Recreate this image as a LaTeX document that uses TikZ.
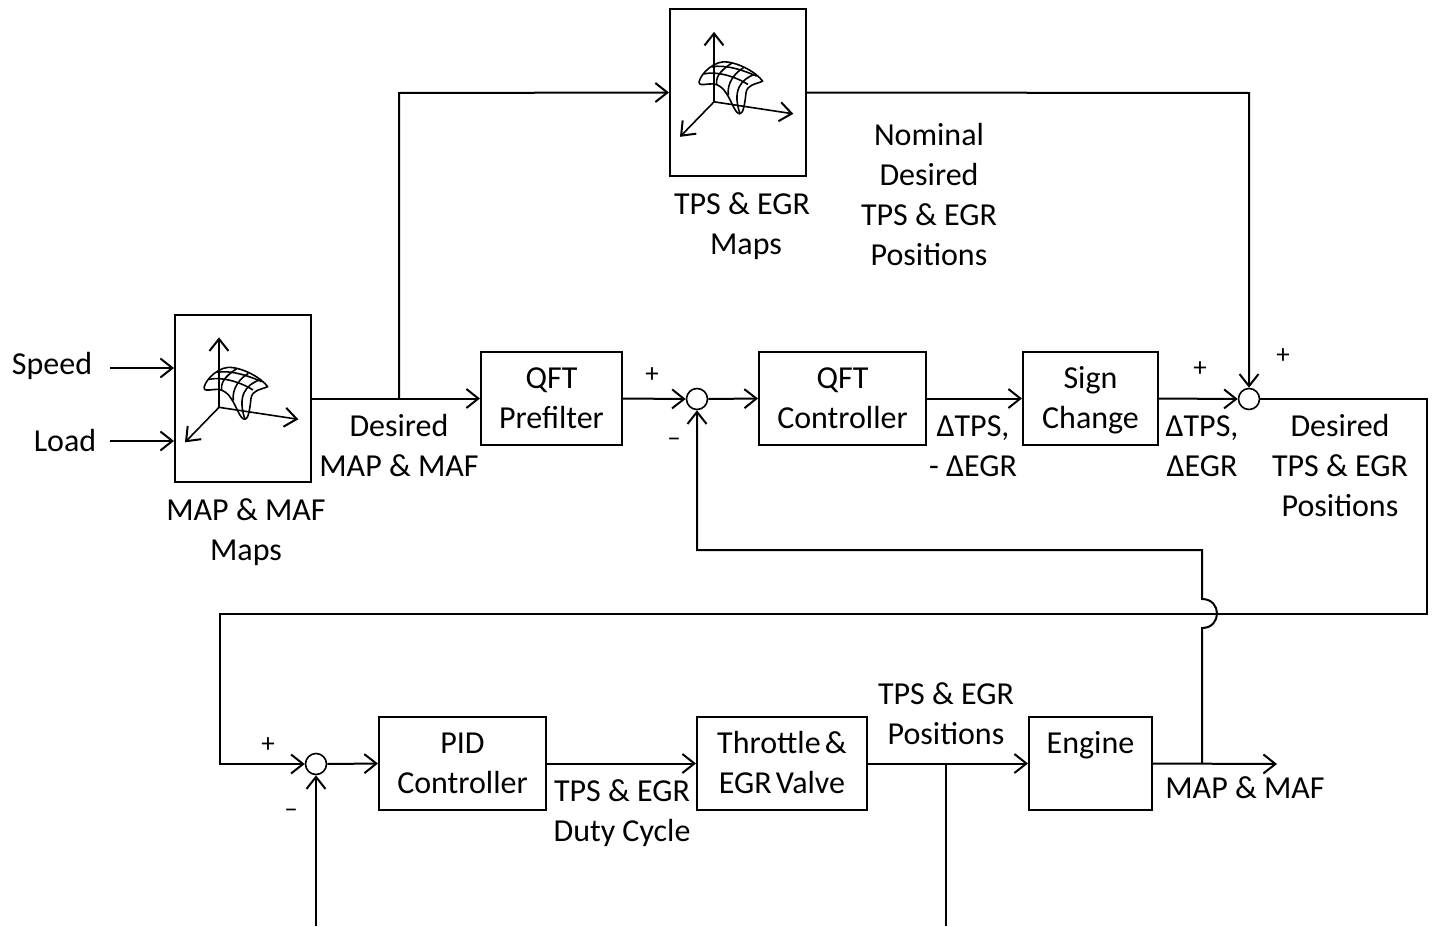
\documentclass[tikz,border=0pt]{standalone}
\usepackage{fontspec}
\setmainfont{Carlito}
\usetikzlibrary{arrows.meta}
\newcommand{\boxtext}[2]{\rule{0pt}{30pt}#1\\#2\rule[-10pt]{0pt}{10pt}}
\newcommand{\mapicon}[2]{%
\begin{scope}[shift={(#1,#2)},x=.3333pt,y=-.3333pt,line width=1.6pt,line join=round]
\draw[arr] (162,292) -- (162,82);
\draw[arr] (162,292) -- (400,328);
\draw[arr] (162,292) -- (60,397);
\draw (118,238) .. controls (112,222) and (150,175) .. (190,172)
 .. controls (235,172) and (290,205) .. (308,230)
 .. controls (285,240) and (262,240) .. (258,265)
 .. controls (255,295) and (250,328) .. (240,328)
 .. controls (225,328) and (215,290) .. (200,268)
 .. controls (190,250) and (175,240) .. (160,238)
 .. controls (140,238) and (125,243) .. (118,238);
\draw (215,176) .. controls (195,190) and (165,210) .. (170,240);
\draw (250,190) .. controls (225,205) and (200,235) .. (205,272);
\draw (282,210) .. controls (245,225) and (215,255) .. (240,328);
\draw (132,208) .. controls (170,200) and (225,215) .. (264,240);
\draw (155,187) .. controls (195,180) and (245,195) .. (290,215);
\end{scope}}
\tikzset{
 line/.style={line width=2pt},
 arr/.style={-{Straight Barb[length=12pt,width=19pt,line width=2pt]}},
 flow/.style={line,arr},
 box/.style={draw,line width=2pt,inner sep=0pt,align=center},
 sumnode/.style={draw,circle,line width=1.6pt,minimum size=21pt,inner sep=0pt},
 lab/.style={inner sep=0pt,align=center},
 sign/.style={inner sep=0pt,font=\fontsize{27}{27}\selectfont},
}
\begin{document}
\begin{tikzpicture}[x=1pt,y=-1pt,font=\fontsize{32}{40}\selectfont]
\useasboundingbox (0,0) rectangle (1434,926);
% boxes
\node[box,minimum width=136pt,minimum height=167pt] (mapmaf) at (243,398.5) {};
\node[box,minimum width=136pt,minimum height=167pt] (tpsmap) at (738,92.5) {};
\node[box,minimum width=141pt,minimum height=93pt] (prefilter) at (551.5,398.5) {\boxtext{QFT}{Prefilter}};
\node[box,minimum width=167pt,minimum height=93pt] (qft) at (842.5,398.5) {\boxtext{QFT}{Controller}};
\node[box,minimum width=135pt,minimum height=93pt] (signch) at (1090.5,398.5) {\boxtext{Sign}{Change}};
\node[box,minimum width=167pt,minimum height=93pt] (pid) at (462.5,763.5) {\boxtext{PID}{Controller}};
\node[box,minimum width=170pt,minimum height=93pt] (throttle) at (782,763.5) {\boxtext{Throttle\hspace{-3pt} \&}{EGR\hspace{-3pt} Valve}};
\node[box,minimum width=123pt,minimum height=93pt] (engine) at (1090.5,763.5) {\boxtext{Engine}{~}};
\node[sumnode] (s1) at (697,399) {};
\node[sumnode] (s2) at (1249,399) {};
\node[sumnode] (s3) at (316,764) {};
\mapicon{165}{310}
\mapicon{660}{4.5}
% free ends and corners
\coordinate (speedin) at (110,368);
\coordinate (loadin) at (110,441);
\coordinate (b1) at (399,398.5);
\coordinate (b1top) at (399,93);
\coordinate (c1) at (1249,93);
\coordinate (c2) at (1427,399);
\coordinate (c3) at (1427,613.5);
\coordinate (c4) at (220,613.5);
\coordinate (c5) at (220,764);
\coordinate (b2) at (1202,764);
\coordinate (j1) at (1202,628);
\coordinate (j2) at (1202,599);
\coordinate (c6) at (1202,550);
\coordinate (c7) at (697,550);
\coordinate (out) at (1277,764);
\coordinate (b3) at (946,764);
\coordinate (b3end) at (946,926);
\coordinate (s3in) at (316,926);
% connectors
\draw[flow] (speedin) -- (speedin -| mapmaf.west);
\draw[flow] (loadin) -- (loadin -| mapmaf.west);
\draw[flow] (mapmaf.east |- b1) -- (prefilter.west);
\draw[flow] (b1) -- (b1top) -- (tpsmap.west);
\draw[flow] (tpsmap.east) -- (c1) -- (s2.north);
\draw[flow] (prefilter.east) -- (s1.west);
\draw[flow] (s1.east) -- (qft.west);
\draw[flow] (qft.east) -- (signch.west);
\draw[flow] (signch.east) -- (s2.west);
\draw[flow] (s2.east) -- (c2) -- (c3) -- (c4) -- (c5) -- (s3.west);
\draw[flow] (s3.east) -- (pid.west);
\draw[flow] (pid.east) -- (throttle.west);
\draw[flow] (throttle.east) -- (engine.west);
\draw[flow] (engine.east) -- (out);
\draw[flow] (b2) -- (j1) .. controls (1222,628) and (1222,599) .. (j2) -- (c6) -- (c7) -- (s1.south);
\draw[line] (b3) -- (b3end);
\draw[flow] (s3in) -- (s3.south);
% labels
\node[lab] (tspeed) at (52,366) {Speed};
\node[lab] (tload) at (65,441) {Load};
\node[lab] (tmapmaps) at (246,532) {MAP \& MAF\\Maps};
\node[lab] (ttpsmaps) at (742,226) {TPS \& EGR\\\hspace*{8pt}Maps};
\node[lab] (tnominal) at (929,194.5) {Nominal\\Desired\\TPS \& EGR\\Positions};
\node[lab] (tdesmap) at (399,446) {Desired\\MAP \& MAF};
\node[lab] (tdtps) at (973,446) {ΔTPS,\\- ΔEGR};
\node[lab] (tdtps2) at (1202,446) {ΔTPS,\\ΔEGR};
\node[lab] (tdestps) at (1340,465.5) {Desired\\TPS \& EGR\\Positions};
\node[lab] (ttpspos) at (946,714) {TPS \& EGR\\Positions};
\node[lab] (tduty) at (622,813) {TPS \& EGR\\Duty Cycle};
\node[lab] (tmapout) at (1245,788) {MAP \& MAF};
\node[sign] (p1) at (652,375) {+};
\node[sign] (m1) at (674,442) {–};
\node[sign] (p2) at (1200,369) {+};
\node[sign] (p3) at (1283,356) {+};
\node[sign] (p4) at (268,745) {+};
\node[sign] (m2) at (291,813) {–};
\end{tikzpicture}
\end{document}
